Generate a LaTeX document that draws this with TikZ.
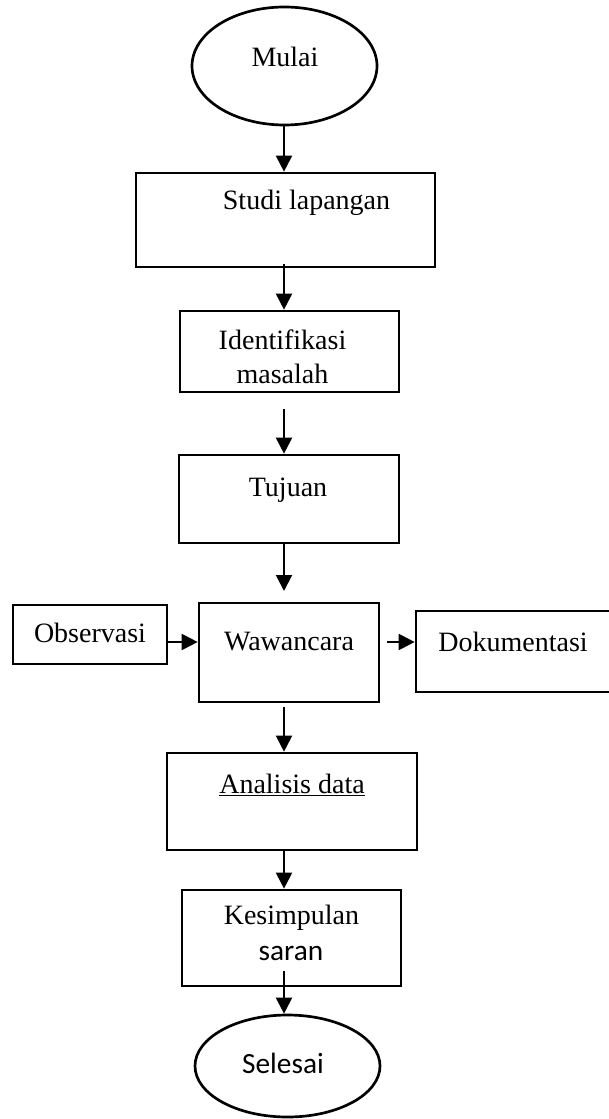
\documentclass[tikz,border=0pt]{standalone}
\usepackage{fontspec}
\setmainfont{Liberation Serif}
\newfontfamily\calibrifont{Carlito}
\usetikzlibrary{positioning,shapes.geometric,arrows.meta}

\begin{document}
\begin{tikzpicture}[x=0.75pt,y=-0.75pt]
	\useasboundingbox (0,0) rectangle (609,1119);
	\coordinate (col) at (284,0);
	\coordinate (row) at (0,642);
	\begin{scope}[every node/.style={draw,line width=2pt}]
		\node[ellipse,minimum width=138.75pt,minimum height=88.5pt] (mulai) at (284.5,66) {};
		\node[minimum width=224.25pt,minimum height=70.5pt] (studi) at (285.5,220) {};
		\node[minimum width=164.25pt,minimum height=60.75pt] (ident) at (289.5,351.5) {};
		\node[minimum width=165pt,minimum height=66pt] (tujuan) at (289,499) {};
		\node[minimum width=115.5pt,minimum height=44.25pt] (obs) at (90,634.5) {};
		\node[minimum width=135pt,minimum height=74.25pt] (wawan) at (289,652.5) {};
		\node[minimum width=150pt,minimum height=60.75pt] (doku) at (516,651.5) {};
		\node[minimum width=187.5pt,minimum height=72.75pt] (analisis) at (292,801.5) {};
		\node[minimum width=164.25pt,minimum height=72pt] (kesim) at (291.5,938) {};
		\node[ellipse,minimum width=138.75pt,minimum height=76.5pt] (selesai) at (287.5,1066) {};
	\end{scope}
	\begin{scope}[every node/.style={inner sep=0pt,align=center,font=\fontsize{21pt}{25.5pt}\selectfont}]
		\node (mulaitxt) at (285,57) {Mulai};
		\node (studitxt) at (306.5,203) {Studi lapangan};
		\node (identtxt) at (282.5,357) {Identifikasi\\masalah};
		\node (tujuantxt) at (288,490) {Tujuan};
		\node (obstxt) at (90,633) {Observasi};
		\node (wawantxt) at (289,642) {Wawancara};
		\node (dokutxt) at (513,642) {Dokumentasi};
		\node (analisistxt) at (292,785) {\underline{Analisis data}};
		\node (kesimtxt) at (291.5,918) {Kesimpulan};
		\node[font=\calibrifont\fontsize{22pt}{26pt}\selectfont] (sarantxt) at (291,953) {saran};
		\node[font=\calibrifont\fontsize{22pt}{26pt}\selectfont] (selesaitxt) at (283,1063) {Selesai};
	\end{scope}
	\begin{scope}[>={Triangle[length=12pt,width=12pt]},
	              every edge/.style={draw=black,line width=1.5pt}]
		\path [->] (mulai.south -| col) edge (studi.north -| col);
		\path [->] (studi.south -| col) edge[shorten <=-3pt] (ident.north -| col);
		\path [->] (ident.south -| col) edge[shorten <=12pt] (tujuan.north -| col);
		\path [->] (tujuan.south -| col) edge[shorten >=8pt] (wawan.north -| col);
		\path [->] (obs.east |- row) edge (wawan.west |- row);
		\path [->] (wawan.east |- row) edge[shorten <=5pt] (doku.west |- row);
		\path [->] (wawan.south -| col) edge[shorten <=3pt] (analisis.north -| col);
		\path [->] (analisis.south -| col) edge (kesim.north -| col);
		\path [->] (kesim.south -| col) edge[shorten <=-12pt] (selesai.north -| col);
	\end{scope}
\end{tikzpicture}
\end{document}
